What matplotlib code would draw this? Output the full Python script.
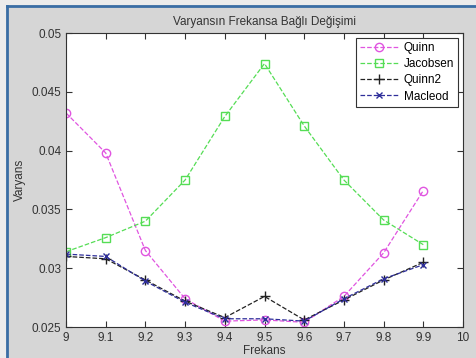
import matplotlib.pyplot as plt
from matplotlib.lines import Line2D

plt.rcParams['font.family'] = ['Liberation Sans', 'DejaVu Sans']

frekans = [9.0, 9.1, 9.2, 9.3, 9.4, 9.5, 9.6, 9.7, 9.8, 9.9]
quinn = [0.0432, 0.0398, 0.0315, 0.0274, 0.0255, 0.0256, 0.0254, 0.0276, 0.0313, 0.0366]
jacobsen = [0.0314, 0.0326, 0.0340, 0.0375, 0.0429, 0.0474, 0.0421, 0.0375, 0.0341, 0.0320]
quinn2 = [0.0310, 0.0308, 0.0290, 0.0272, 0.0258, 0.0276, 0.0256, 0.0273, 0.0290, 0.0305]
macleod = [0.0312, 0.0310, 0.0289, 0.0271, 0.0257, 0.0257, 0.0255, 0.0274, 0.0291, 0.0303]

xticks = [9, 9.1, 9.2, 9.3, 9.4, 9.5, 9.6, 9.7, 9.8, 9.9, 10]
xticklabels = ['9', '9.1', '9.2', '9.3', '9.4', '9.5', '9.6', '9.7', '9.8', '9.9', '10']
yticks = [0.025, 0.03, 0.035, 0.04, 0.045, 0.05]
yticklabels = ['0.025', '0.03', '0.035', '0.04', '0.045', '0.05']

fig = plt.figure(figsize=(4.76, 3.58), dpi=100, facecolor='#d6d6d6')
# window frame: light strip with blue edge on the left and top
fig.patches.append(plt.Rectangle((0, 0), 6 / 476, 1, transform=fig.transFigure,
                                 facecolor='#ececec', edgecolor='none', zorder=-1))
fig.patches.append(plt.Rectangle((0, 1 - 5 / 358), 1, 5 / 358, transform=fig.transFigure,
                                 facecolor='#ececec', edgecolor='none', zorder=-1))
fig.lines.append(Line2D([7 / 476, 7 / 476], [0, 1 - 6 / 358], transform=fig.transFigure,
                        color='#3a6ea5', linewidth=2))
fig.lines.append(Line2D([7 / 476, 1], [1 - 6 / 358, 1 - 6 / 358], transform=fig.transFigure,
                        color='#3a6ea5', linewidth=2))

ax = fig.add_axes([66 / 476, 1 - 327 / 358, 397 / 476, 294 / 358])
ax.plot(frekans, quinn, linestyle='--', color='#e055e0', marker='o', markersize=6,
        markerfacecolor='none', linewidth=0.9, label='Quinn')
ax.plot(frekans, jacobsen, linestyle='--', color='#55dd55', marker='s', markersize=6,
        markerfacecolor='none', linewidth=0.9, label='Jacobsen')
ax.plot(frekans, quinn2, linestyle='--', color='#222222', marker='+', markersize=7,
        linewidth=0.9, label='Quinn2')
ax.plot(frekans, macleod, linestyle='--', color='#2e2e9a', marker='x', markersize=4,
        linewidth=0.9, label='Macleod')

ax.set_xlim(9, 10)
ax.set_ylim(0.025, 0.05)
ax.set_xticks(xticks)
ax.set_xticklabels(xticklabels)
ax.set_yticks(yticks)
ax.set_yticklabels(yticklabels)
ax.tick_params(direction='in', top=True, right=True, labelsize=8.5, length=4, colors='#333333')
for s in ax.spines.values():
    s.set_color('#333333')
ax.set_title('Varyansın Frekansa Bağlı Değişimi', fontsize=8.5, color='#333333', pad=6)
ax.set_xlabel('Frekans', fontsize=8.5, color='#333333', labelpad=1)
ax.set_ylabel('Varyans', fontsize=8.5, color='#333333', labelpad=4)

leg = ax.legend(loc='upper right', fontsize=8.5, fancybox=False, edgecolor='#333333',
                framealpha=1, handlelength=3.2, borderaxespad=0, labelspacing=0.35,
                borderpad=0.35, handletextpad=0.5, bbox_to_anchor=(0.988, 0.983))
leg.get_frame().set_linewidth(0.8)

fig.savefig('out.png', dpi=100, facecolor=fig.get_facecolor())
